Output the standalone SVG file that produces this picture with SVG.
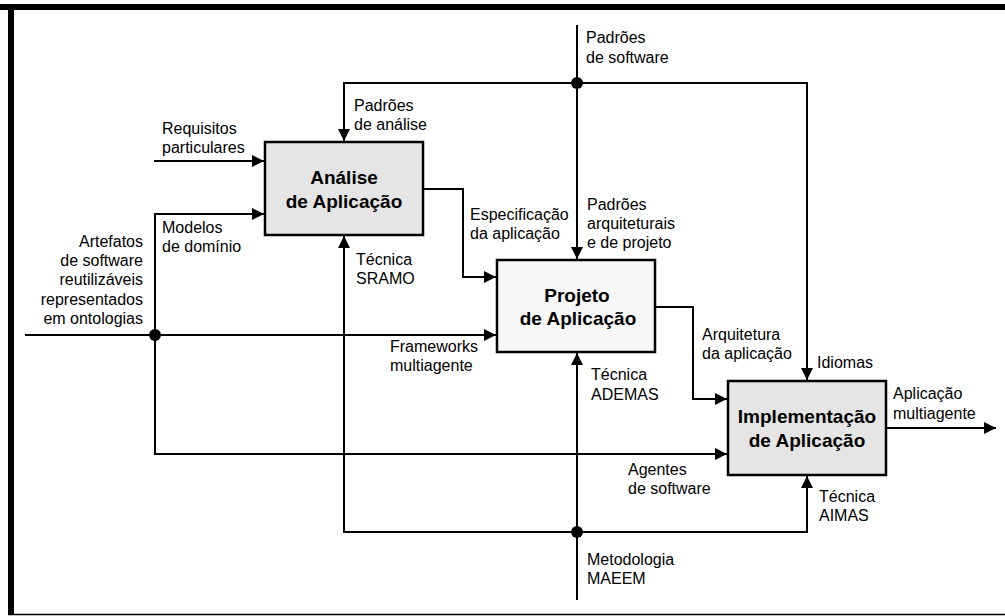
<svg xmlns="http://www.w3.org/2000/svg" width="1005" height="616" viewBox="0 0 1005 616">
<style>
text{font-family:"Liberation Sans",Arial,sans-serif;font-size:16px;fill:#000}
.t{font-weight:bold;font-size:19px;text-anchor:middle}
.r{text-anchor:end}
.box{stroke:#000;stroke-width:2.5}
.c{fill:none;stroke:#000;stroke-width:2}
.a{marker-end:url(#ah)}
</style>
<defs>
<marker id="ah" markerUnits="userSpaceOnUse" markerWidth="12" markerHeight="12" refX="12" refY="6" orient="auto">
<path d="M0,0 L12,6 L0,12 z" fill="#000"/>
</marker>
</defs>
<rect width="1005" height="616" fill="#fff"/>
<g id="frame">
<rect x="0" y="4" width="1005" height="6" fill="#000"/>
<rect x="8" y="4" width="6" height="611" fill="#000"/>
<line x1="8" y1="614.5" x2="1005" y2="614.5" stroke="#000" stroke-width="1.5"/>
</g>
<g id="connectors">
<path class="c a" d="M577,25 V259"/>
<path class="c a" d="M577,83 H344 V141"/>
<path class="c a" d="M577,83 H807 V380"/>
<path class="c a" d="M154,161 H264"/>
<path class="c a" d="M25,335 H496"/>
<path class="c a" d="M155,335 V214 H264"/>
<path class="c a" d="M155,335 V454 H727"/>
<path class="c a" d="M423,189 H463 V277 H496"/>
<path class="c a" d="M655,307 H693 V399 H727"/>
<path class="c a" d="M886,428 H996"/>
<path class="c a" d="M577,600 V353"/>
<path class="c a" d="M577,532 H344 V236"/>
<path class="c a" d="M577,532 H807 V476"/>
<circle cx="155" cy="335" r="6"/>
<circle cx="577" cy="83" r="6"/>
<circle cx="577" cy="532" r="6"/>
<text x="586" y="43"><tspan x="586">Padrões</tspan><tspan x="586" dy="19.5">de software</tspan></text>
<text x="354" y="111"><tspan x="354">Padrões</tspan><tspan x="354" dy="19">de análise</tspan></text>
<text x="162" y="134"><tspan x="162">Requisitos</tspan><tspan x="162" dy="19">particulares</tspan></text>
<text x="162" y="232.5"><tspan x="162">Modelos</tspan><tspan x="162" dy="19">de domínio</tspan></text>
<text class="r" x="143" y="246.5"><tspan x="143">Artefatos</tspan><tspan x="143" dy="19.4">de software</tspan><tspan x="143" dy="19.4">reutilizáveis</tspan><tspan x="143" dy="19.4">representados</tspan><tspan x="143" dy="19.4">em ontologias</tspan></text>
<text x="356" y="265"><tspan x="356">Técnica</tspan><tspan x="356" dy="19">SRAMO</tspan></text>
<text x="470" y="220"><tspan x="470">Especificação</tspan><tspan x="470" dy="18.5">da aplicação</tspan></text>
<text x="587" y="209.5"><tspan x="587">Padrões</tspan><tspan x="587" dy="19.3">arquiteturais</tspan><tspan x="587" dy="19.3">e de projeto</tspan></text>
<text x="390" y="352"><tspan x="390">Frameworks</tspan><tspan x="390" dy="19">multiagente</tspan></text>
<text x="702" y="339.5"><tspan x="702">Arquitetura</tspan><tspan x="702" dy="19">da aplicação</tspan></text>
<text x="817" y="367.5">Idiomas</text>
<text x="591" y="380"><tspan x="591">Técnica</tspan><tspan x="591" dy="19.5">ADEMAS</tspan></text>
<text x="893" y="399"><tspan x="893">Aplicação</tspan><tspan x="893" dy="19.5">multiagente</tspan></text>
<text x="628" y="474.5"><tspan x="628">Agentes</tspan><tspan x="628" dy="19">de software</tspan></text>
<text x="819" y="502"><tspan x="819">Técnica</tspan><tspan x="819" dy="19">AIMAS</tspan></text>
<text x="587" y="565"><tspan x="587">Metodologia</tspan><tspan x="587" dy="19">MAEEM</tspan></text>
</g>
<g id="analise">
<rect class="box" x="265" y="142" width="158" height="93" fill="#e5e5e5"/>
<text class="t" x="344" y="184"><tspan x="344">Análise</tspan><tspan x="344" dy="24">de Aplicação</tspan></text>
</g>
<g id="projeto">
<rect class="box" x="497" y="260" width="158" height="92" fill="#f7f7f7"/>
<text class="t" x="577" y="301.5"><tspan x="577">Projeto</tspan><tspan x="578" dy="23.5">de Aplicação</tspan></text>
</g>
<g id="implementacao">
<rect class="box" x="728" y="381" width="158" height="94" fill="#e5e5e5"/>
<text class="t" x="807" y="423"><tspan x="807">Implementação</tspan><tspan x="807" dy="24">de Aplicação</tspan></text>
</g>
</svg>
